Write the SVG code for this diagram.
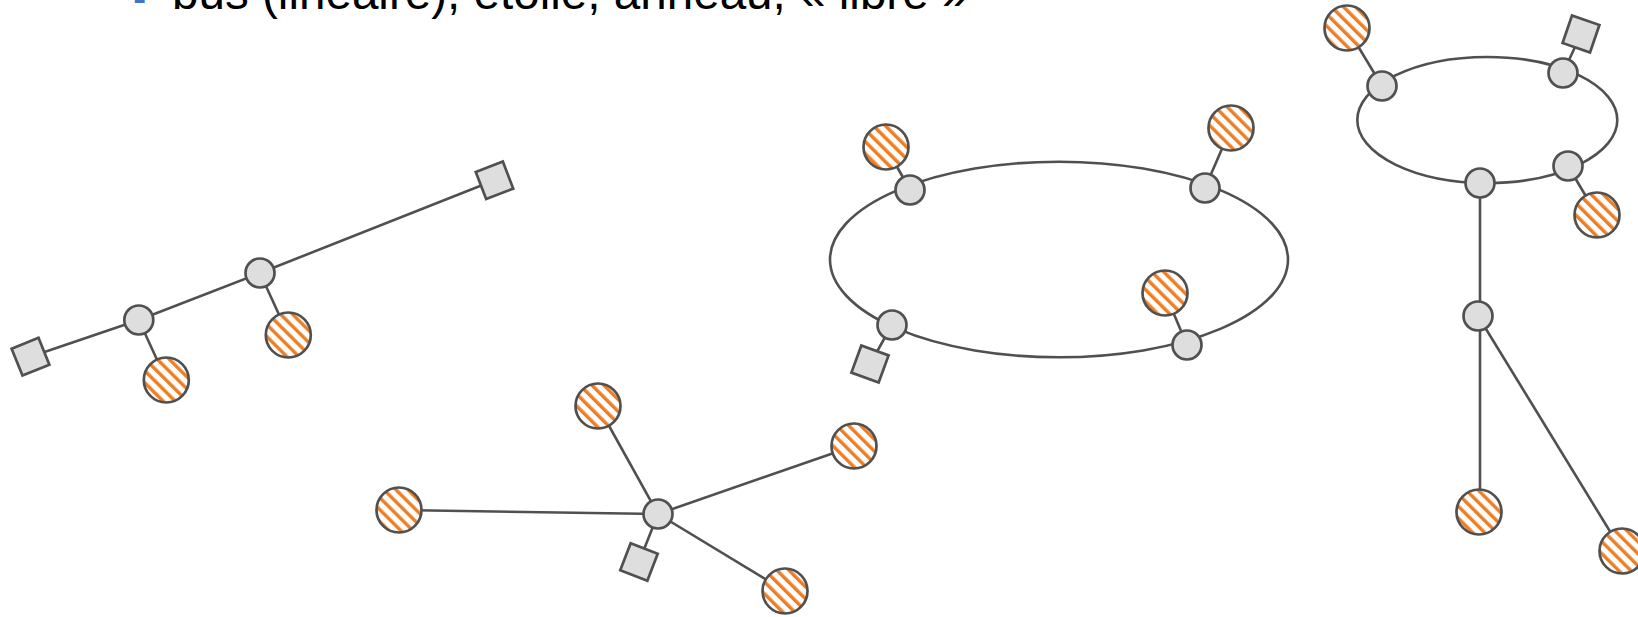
<svg xmlns="http://www.w3.org/2000/svg" width="1638" height="617" viewBox="0 0 1638 617">
<defs>
<pattern id="hatch" patternUnits="userSpaceOnUse" width="8.5" height="8.5" patternTransform="rotate(-45)">
<rect x="0" y="0" width="8.5" height="8.5" fill="#ffffff"/>
<rect x="0" y="0" width="3.4" height="8.5" fill="#ef7d22"/>
</pattern>
</defs>
<style>
.ln{stroke:#505050;stroke-width:2.6;fill:none}
.node{fill:#dedede;stroke:#505050;stroke-width:2.7}
.host{fill:url(#hatch);stroke:#505050;stroke-width:2.7}
.term{fill:#dedede;stroke:#505050;stroke-width:2.7}
.title{font-family:"Liberation Sans",Arial,sans-serif;font-size:47.6px;fill:#000}
.bullet{font-family:"Liberation Sans",Arial,sans-serif;font-size:40px;fill:#4472c4}
</style>
<rect width="1638" height="617" fill="#ffffff"/>
<text class="bullet" x="133" y="12">-</text>
<text class="title" x="172" y="9">bus (linéaire), étoile, anneau, « libre »</text>
<g id="connectors">
<polyline class="ln" points="30.5,356.7 138.8,320 260,273 494.5,180.3"/>
<line class="ln" x1="138.8" y1="320" x2="166.3" y2="380"/>
<line class="ln" x1="260" y1="273" x2="288.3" y2="335"/>
<line class="ln" x1="658" y1="514" x2="598" y2="406"/>
<line class="ln" x1="658" y1="514" x2="399" y2="510"/>
<line class="ln" x1="658" y1="514" x2="854" y2="446"/>
<line class="ln" x1="658" y1="514" x2="785" y2="591"/>
<line class="ln" x1="658" y1="514" x2="639" y2="562"/>
<ellipse class="ln" cx="1059" cy="259.5" rx="229" ry="97.8"/>
<line class="ln" x1="910" y1="190" x2="886" y2="147"/>
<line class="ln" x1="1205" y1="188" x2="1231" y2="128"/>
<line class="ln" x1="1187" y1="345" x2="1165" y2="293"/>
<line class="ln" x1="892" y1="325" x2="870" y2="364"/>
<ellipse class="ln" cx="1487.3" cy="120" rx="130" ry="63"/>
<line class="ln" x1="1382" y1="86" x2="1347" y2="28"/>
<line class="ln" x1="1563" y1="73" x2="1581" y2="34"/>
<line class="ln" x1="1568" y1="166" x2="1597" y2="215"/>
<line class="ln" x1="1480" y1="183" x2="1480" y2="316"/>
<line class="ln" x1="1480" y1="316" x2="1480" y2="512"/>
<line class="ln" x1="1478" y1="316" x2="1622" y2="551"/>
</g>
<g id="bus">
<rect id="bus-term1" class="term" x="-14.5" y="-14.5" width="29" height="29" transform="translate(30.5,356.7) rotate(-22)"/>
<rect id="bus-term2" class="term" x="-14.5" y="-14.5" width="29" height="29" transform="translate(494.5,180.3) rotate(-21)"/>
<circle id="bus-n1" class="node" cx="138.8" cy="320" r="14.5"/>
<circle id="bus-n2" class="node" cx="260" cy="273" r="14.5"/>
<circle id="bus-h1" class="host" cx="166.3" cy="380" r="22.5"/>
<circle id="bus-h2" class="host" cx="288.3" cy="335" r="22.5"/>
</g>
<g id="star">
<circle id="star-h1" class="host" cx="598" cy="406" r="22.5"/>
<circle id="star-h2" class="host" cx="399" cy="510" r="22.5"/>
<circle id="star-h3" class="host" cx="854" cy="446" r="22.5"/>
<circle id="star-h4" class="host" cx="785" cy="591" r="22.5"/>
<rect id="star-term" class="term" x="-14.5" y="-14.5" width="29" height="29" transform="translate(639,562) rotate(21)"/>
<circle id="star-hub" class="node" cx="658" cy="514" r="14.5"/>
</g>
<g id="ring">
<circle id="ring-n1" class="node" cx="910" cy="190" r="14.5"/>
<circle id="ring-n2" class="node" cx="1205" cy="188" r="14.5"/>
<circle id="ring-n3" class="node" cx="892" cy="325" r="14.5"/>
<circle id="ring-n4" class="node" cx="1187" cy="345" r="14.5"/>
<circle id="ring-h1" class="host" cx="886" cy="147" r="22.5"/>
<circle id="ring-h2" class="host" cx="1231" cy="128" r="22.5"/>
<circle id="ring-h3" class="host" cx="1165" cy="293" r="22.5"/>
<rect id="ring-term" class="term" x="-14.5" y="-14.5" width="29" height="29" transform="translate(870,364) rotate(20)"/>
</g>
<g id="free">
<circle id="free-n1" class="node" cx="1382" cy="86" r="14.5"/>
<circle id="free-n2" class="node" cx="1563" cy="73" r="14.5"/>
<circle id="free-n3" class="node" cx="1568" cy="166" r="14.5"/>
<circle id="free-n4" class="node" cx="1480" cy="183" r="14.5"/>
<circle id="free-n5" class="node" cx="1478" cy="316" r="14.5"/>
<circle id="free-h1" class="host" cx="1347" cy="28" r="22.5"/>
<circle id="free-h2" class="host" cx="1597" cy="215" r="22.5"/>
<circle id="free-h3" class="host" cx="1479" cy="512" r="22.5"/>
<circle id="free-h4" class="host" cx="1622" cy="551" r="22.5"/>
<rect id="free-term" class="term" x="-14.5" y="-14.5" width="29" height="29" transform="translate(1581,34) rotate(19)"/>
</g>
</svg>
